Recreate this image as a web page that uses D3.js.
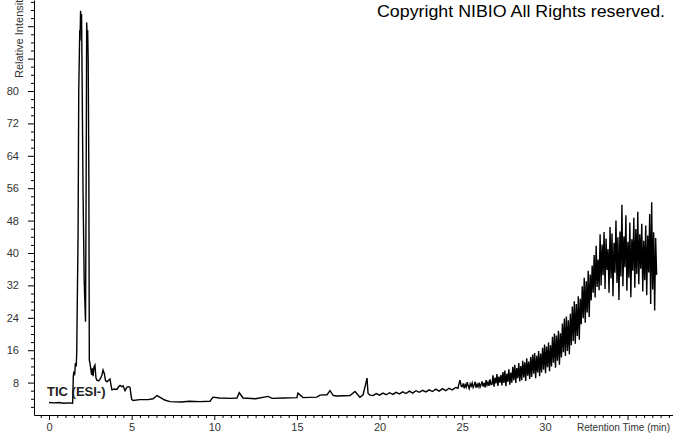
<!DOCTYPE html>
<html>
<head>
<meta charset="utf-8">
<script src="https://cdn.jsdelivr.net/npm/d3@7"></script>
<style>
  body { margin: 0; background: #fff; }
  svg { display: block; font-family: 'Liberation Sans', Arial, sans-serif; }
</style>
</head>
<body>
<svg id="chart" width="673" height="433"></svg>
<script>
const WIDTH = 673;
const HEIGHT = 433;

// x axis: retention time (min)
const xMajorTicks = [0, 5, 10, 15, 20, 25, 30, 35];
const xTickLabels = ['0', '5', '10', '15', '20', '25', '30', ''];
// y axis: relative intensity
const yMajorTicks = [8, 16, 24, 32, 40, 48, 56, 64, 72, 80, 88, 96];
const yTickLabels = ['8', '16', '24', '32', '40', '48', '56', '64', '72', '80', '', ''];

const xTitle = 'Retention Time (min)';
const yTitle = 'Relative Intensity';
const traceName = 'TIC (ESI-)';
const copyright = 'Copyright NIBIO All Rights reserved.';

// sparse part of the trace, [time, intensity]
const ticEarly = [
  [0, 3.1], [0.3, 3.0], [0.6, 3.1], [0.9, 2.9], [1.2, 3.0], [1.43, 2.9],
  [1.47, 9.5], [1.5, 10.7], [1.55, 9.8], [1.6, 12.8], [1.65, 12.0], [1.68, 16.0],
  [1.76, 45], [1.8, 80], [1.84, 90], [1.86, 95], [1.88, 92.5], [1.91, 99.8],
  [1.94, 97.5], [1.97, 99], [2.0, 85], [2.06, 55], [2.13, 33], [2.21, 23],
  [2.25, 60], [2.28, 96.9], [2.31, 93], [2.34, 95], [2.37, 88], [2.41, 60],
  [2.44, 13.6], [2.5, 12.2], [2.58, 9.9], [2.62, 11.5], [2.67, 9.6], [2.72, 11.8],
  [2.78, 12.3], [2.84, 9.2], [2.9, 8.6], [3.0, 8.4], [3.1, 8.9], [3.2, 9.8],
  [3.27, 11.1], [3.35, 10.2], [3.42, 8.5], [3.51, 8.2], [3.6, 8.6], [3.69, 8.9],
  [3.75, 7.4], [3.81, 6.2], [3.95, 6.4], [4.11, 6.3], [4.2, 6.9], [4.3, 7.3],
  [4.4, 7.0], [4.48, 7.2], [4.6, 6.0], [4.72, 6.9], [4.82, 7.0], [4.9, 6.8],
  [5.0, 3.9], [5.08, 3.6], [5.5, 3.8], [6.0, 3.8], [6.3, 4.0], [6.53, 4.8],
  [6.7, 4.4], [7.0, 3.7], [7.32, 3.3], [8.0, 3.2], [8.5, 3.4], [9.13, 3.3],
  [9.74, 3.4], [9.92, 4.4], [10.3, 4.2], [11.0, 4.1], [11.37, 4.2], [11.51, 5.5],
  [11.74, 4.2], [12.5, 4.0], [13.25, 4.6], [13.5, 4.1], [14.2, 4.2], [15.0, 4.3],
  [15.06, 5.4], [15.37, 4.3], [16.2, 4.4], [16.39, 4.9], [16.82, 5.0], [17.0, 6.0],
  [17.2, 4.8], [17.42, 4.7], [18.21, 4.8], [18.51, 5.8], [18.81, 4.4], [19.0, 5.0],
  [19.15, 7.5], [19.24, 9.1], [19.3, 5.4], [19.42, 4.9], [19.6, 4.8], [19.8, 5.3],
  [20.0, 4.9], [20.2, 5.4], [20.4, 5.0], [20.6, 5.5], [20.8, 5.1], [21.0, 5.6],
  [21.2, 5.2], [21.4, 5.7], [21.6, 5.3], [21.8, 5.9], [22.0, 5.4], [22.2, 6.0],
  [22.4, 5.6], [22.6, 6.1], [22.8, 5.7], [23.0, 6.2], [23.2, 5.8], [23.4, 6.4],
  [23.6, 5.9], [23.8, 6.5], [24.0, 6.0], [24.2, 6.6], [24.4, 6.2], [24.6, 6.8],
  [24.74, 6.6], [24.86, 8.6], [24.95, 7.0],
];

// dense noisy tail, sampled every 0.06 min from 25.0 min
const tailStart = 25.0;
const tailStep = 0.06;
const ticTail = [
  7.0, 7.8, 6.6, 7.5, 6.9, 8.1, 7.2, 6.5, 7.7, 7.1,
  7.9, 6.8, 7.4, 8.2, 6.7, 7.6, 7.0, 8.0, 6.9, 7.5,
  8.3, 7.0, 7.9, 6.8, 8.6, 7.4, 8.1, 7.2, 8.8, 7.5,
  7.6, 9.8, 7.0, 9.2, 7.8, 10.1, 7.2, 9.5, 8.0, 9.9,
  7.3, 10.6, 7.9, 11.0, 7.1, 10.2, 8.2, 11.3, 7.5, 10.5,
  8.0, 11.9, 8.6, 12.4, 7.9, 11.6, 9.1, 12.8, 8.3, 12.1,
  8.6, 13.4, 9.3, 13.0, 8.4, 14.0, 9.7, 13.2, 8.9, 14.3,
  9.4, 14.9, 10.2, 15.3, 9.1, 14.6, 10.5, 15.8, 9.6, 15.2,
  10.5, 16.6, 11.2, 17.4, 10.3, 16.9, 11.8, 17.9, 10.8, 17.2,
  12.0, 19.3, 12.9, 20.1, 11.7, 19.6, 13.4, 20.8, 12.4, 20.2,
  14.2, 22.6, 15.5, 23.8, 14.6, 24.3, 15.8, 23.4, 15.0, 25.0,
  17.2, 26.8, 18.3, 28.1, 17.6, 27.4, 19.5, 29.3, 18.6, 28.7,
  22.4, 31.8, 23.9, 33.9, 22.8, 33.0, 25.3, 35.6, 24.2, 34.7,
  28.3, 36.9, 30.2, 39.5, 29.0, 41.8, 31.6, 38.4, 30.8, 44.6,
  32.0, 42.1, 34.5, 45.2, 31.1, 43.6, 35.8, 41.0, 30.2, 46.4,
  33.7, 44.8, 29.3, 42.5, 35.1, 48.0, 32.6, 43.9, 28.4, 45.3,
  34.2, 51.9, 31.8, 44.1, 36.5, 49.3, 30.7, 42.8, 33.9, 47.5,
  29.1, 43.4, 35.6, 48.7, 31.4, 45.9, 34.8, 50.2, 32.3, 44.6,
  36.1, 47.2, 30.5, 43.0, 33.3, 46.8, 29.6, 44.3, 35.2, 49.6,
  27.4, 52.5, 31.0, 45.1, 25.8, 43.7, 34.6,
];

const points = ticEarly
  .map(([t, v]) => ({ t, v }))
  .concat(ticTail.map((v, i) => ({ t: tailStart + i * tailStep, v })));

const plotLeft = 34;
const plotBottom = 415;

const x = d3.scaleLinear().domain([-0.907, 37.75]).range([plotLeft, WIDTH]);
const y = d3.scaleLinear().domain([0, 102.47]).range([plotBottom, 0]);

const svg = d3.select('#chart');

// minor ticks
const xMinor = d3.range(-0.5, 37.6, 0.5).filter(t => t % 5 !== 0);
const yMinor = d3.range(2, 103, 2).filter(v => v % 8 !== 0);

svg.append('g')
  .attr('transform', `translate(0, ${plotBottom})`)
  .call(d3.axisBottom(x).tickValues(xMinor).tickSize(3).tickFormat(''))
  .call(g => g.select('.domain').remove());

svg.append('g')
  .attr('transform', `translate(${plotLeft}, 0)`)
  .call(d3.axisLeft(y).tickValues(yMinor).tickSize(3).tickFormat(''))
  .call(g => g.select('.domain').remove());

const xAxis = d3.axisBottom(x)
  .tickValues(xMajorTicks)
  .tickSizeInner(5)
  .tickSizeOuter(0)
  .tickPadding(3)
  .tickFormat((d, i) => xTickLabels[i]);

const yAxis = d3.axisLeft(y)
  .tickValues(yMajorTicks)
  .tickSizeInner(6)
  .tickSizeOuter(0)
  .tickPadding(9)
  .tickFormat((d, i) => yTickLabels[i]);

svg.append('g')
  .attr('class', 'x-axis')
  .attr('transform', `translate(0, ${plotBottom})`)
  .call(xAxis);

svg.append('g')
  .attr('class', 'y-axis')
  .attr('transform', `translate(${plotLeft}, 0)`)
  .call(yAxis);

svg.selectAll('.tick line, .domain').attr('stroke', '#000');
svg.selectAll('.tick text')
  .attr('fill', '#333')
  .style('font-size', '11px')
  .style('font-family', "'Liberation Sans', Arial, sans-serif");

svg.append('text')
  .attr('x', 577)
  .attr('y', 431)
  .attr('fill', '#333')
  .attr('textLength', 93)
  .attr('lengthAdjust', 'spacingAndGlyphs')
  .style('font-size', '10.5px')
  .text(xTitle);

svg.append('text')
  .attr('transform', 'translate(23, 78) rotate(-90)')
  .attr('fill', '#333')
  .style('font-size', '11px')
  .text(yTitle);

// the trace
svg.append('path')
  .datum(points)
  .attr('fill', 'none')
  .attr('stroke', '#000')
  .attr('stroke-width', 1.4)
  .attr('stroke-linejoin', 'miter')
  .attr('d', d3.line().x(d => x(d.t)).y(d => y(d.v)));

svg.append('text')
  .attr('x', 47)
  .attr('y', 396)
  .attr('fill', '#222')
  .style('font-size', '13px')
  .style('font-weight', 'bold')
  .text(traceName);

svg.append('text')
  .attr('x', 377)
  .attr('y', 17)
  .attr('fill', '#000')
  .attr('textLength', 288)
  .attr('lengthAdjust', 'spacingAndGlyphs')
  .style('font-size', '17px')
  .text(copyright);
</script>
</body>
</html>
